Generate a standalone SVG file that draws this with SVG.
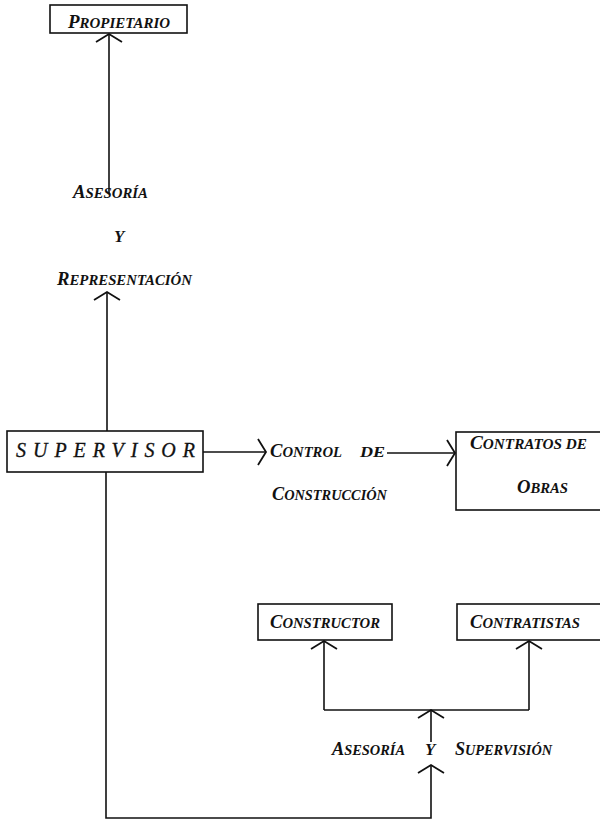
<svg xmlns="http://www.w3.org/2000/svg" width="600" height="820" viewBox="0 0 600 820">
<style>
.box{fill:none;stroke:#111;stroke-width:1.6}
.ln{fill:none;stroke:#111;stroke-width:1.6}
.t{font-family:"Liberation Serif","Times New Roman",serif;font-style:italic;font-weight:bold;font-size:15px;fill:#111}
.b{font-size:19px}
.y{font-size:17px}
.sv{font-family:"Liberation Serif","Times New Roman",serif;font-style:italic;font-size:20px;fill:#111;stroke:#111;stroke-width:0.3}
</style>
<defs>
<marker id="ah" viewBox="0 0 20 30" refX="10" refY="15" markerWidth="20" markerHeight="30" orient="auto" markerUnits="userSpaceOnUse">
<path d="M2,2 L10,15 L2,28" fill="none" stroke="#111" stroke-width="1.8"/>
</marker>
</defs>
<rect width="600" height="820" fill="#fff"/>
<g id="connectors">
<line class="ln" x1="109" y1="193" x2="109" y2="34" marker-end="url(#ah)"/>
<line class="ln" x1="107" y1="431" x2="107" y2="292" marker-end="url(#ah)"/>
<line class="ln" x1="203" y1="452" x2="266" y2="452" marker-end="url(#ah)"/>
<line class="ln" x1="387" y1="453" x2="455" y2="453" marker-end="url(#ah)"/>
<polyline class="ln" points="106,472 106,818 431,818 431,765" marker-end="url(#ah)"/>
<line class="ln" x1="431" y1="742" x2="431" y2="710" marker-end="url(#ah)"/>
<polyline class="ln" points="324,710 529,710"/>
<line class="ln" x1="324" y1="710" x2="324" y2="641" marker-end="url(#ah)"/>
<line class="ln" x1="529" y1="710" x2="529" y2="641" marker-end="url(#ah)"/>
</g>
<g id="propietario">
<rect class="box" x="50" y="5" width="137" height="28"/>
<text class="t" x="68" y="28" textLength="102" lengthAdjust="spacingAndGlyphs"><tspan class="b">P</tspan>ROPIETARIO</text>
</g>
<g id="label-asesoria-representacion">
<text class="t" x="73" y="198" textLength="75" lengthAdjust="spacingAndGlyphs"><tspan class="b">A</tspan>SESORÍA</text>
<text class="t y" x="114" y="242">Y</text>
<text class="t" x="57" y="285" textLength="135" lengthAdjust="spacingAndGlyphs"><tspan class="b">R</tspan>EPRESENTACIÓN</text>
</g>
<g id="supervisor">
<rect class="box" x="7" y="431" width="196" height="41"/>
<text class="sv" x="16" y="457" textLength="179" lengthAdjust="spacing">SUPERVISOR</text>
</g>
<g id="label-control">
<text class="t" x="270" y="457" textLength="72" lengthAdjust="spacingAndGlyphs"><tspan class="b">C</tspan>ONTROL</text>
<text class="t" x="360" y="457" textLength="25" lengthAdjust="spacingAndGlyphs">DE</text>
<text class="t" x="272" y="500" textLength="115" lengthAdjust="spacingAndGlyphs"><tspan class="b">C</tspan>ONSTRUCCIÓN</text>
</g>
<g id="contratos">
<rect class="box" x="456" y="432" width="160" height="78"/>
<text class="t" x="470" y="449" textLength="117" lengthAdjust="spacingAndGlyphs"><tspan class="b">C</tspan>ONTRATOS DE</text>
<text class="t" x="517" y="493" textLength="51" lengthAdjust="spacingAndGlyphs"><tspan class="b">O</tspan>BRAS</text>
</g>
<g id="constructor">
<rect class="box" x="258" y="604" width="134" height="36"/>
<text class="t" x="270" y="628" textLength="110" lengthAdjust="spacingAndGlyphs"><tspan class="b">C</tspan>ONSTRUCTOR</text>
</g>
<g id="contratistas">
<rect class="box" x="457" y="604" width="160" height="36"/>
<text class="t" x="470" y="628" textLength="110" lengthAdjust="spacingAndGlyphs"><tspan class="b">C</tspan>ONTRATISTAS</text>
</g>
<g id="label-asesoria-supervision">
<text class="t" x="332" y="755" textLength="73" lengthAdjust="spacingAndGlyphs"><tspan class="b">A</tspan>SESORÍA</text>
<text class="t y" x="425" y="755">Y</text>
<text class="t" x="455" y="755" textLength="97" lengthAdjust="spacingAndGlyphs"><tspan class="b">S</tspan>UPERVISIÓN</text>
</g>
</svg>
